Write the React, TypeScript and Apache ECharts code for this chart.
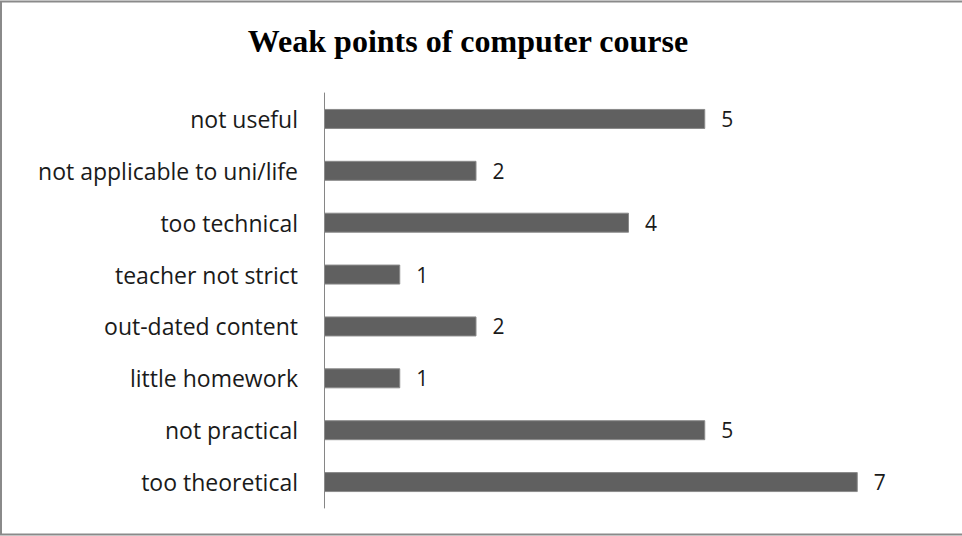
import React, { useEffect, useRef } from "react";
import * as echarts from "echarts";

const categories = [
  "too theoretical",
  "not practical",
  "little homework",
  "out-dated content",
  "teacher not strict",
  "too technical",
  "not applicable to uni/life",
  "not useful",
];
const values = [7, 5, 1, 2, 1, 4, 2, 5];
const titleText = "Weak points of computer course";

export default function App() {
  const ref = useRef<HTMLDivElement>(null);
  useEffect(() => {
    if (!ref.current) return;
    const chart = echarts.init(ref.current, undefined, { renderer: "svg" });
    chart.setOption({
      animation: false,
      backgroundColor: "#ffffff",
      title: {
        text: titleText,
        left: 463,
        textAlign: "center",
        top: 20,
        textStyle: {
          fontFamily: "Liberation Serif",
          fontWeight: "bold",
          fontSize: 32,
          color: "#000000",
        },
      },
      graphic: [
        {
          type: "rect",
          shape: { x: 1, y: 1.5, width: 970, height: 533 },
          style: { fill: "none", stroke: "#8a8a8a", lineWidth: 2 },
          silent: true,
        },
      ],
      grid: { left: 324, right: 28, top: 93, bottom: 28, containLabel: false },
      xAxis: {
        type: "value",
        min: 0,
        max: 8,
        show: false,
      },
      yAxis: {
        type: "category",
        data: categories,
        axisLine: { show: true, lineStyle: { color: "#868686", width: 1 } },
        axisTick: { show: false },
        axisLabel: {
          margin: 26,
          fontFamily: "Open Sans",
          fontSize: 23,
          color: "#1a1a1a",
        },
        splitLine: { show: false },
      },
      series: [
        {
          type: "bar",
          data: values,
          barWidth: 20,
          itemStyle: { color: "#606060", borderColor: "#8a8a8a", borderWidth: 1 },
          label: {
            show: true,
            position: "right",
            distance: 16,
            fontFamily: "Open Sans",
            fontSize: 21,
            color: "#1a1a1a",
          },
        },
      ],
    });
    return () => chart.dispose();
  }, []);
  return (
    <div
      ref={ref}
      style={{ position: "absolute", left: 0, top: 0, width: 962, height: 536 }}
    />
  );
}
